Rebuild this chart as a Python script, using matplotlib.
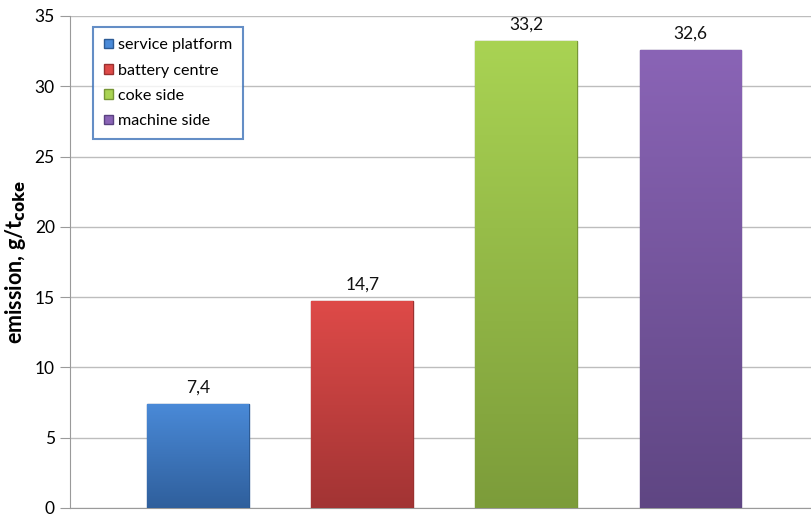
import matplotlib
matplotlib.use("Agg")
import matplotlib.pyplot as plt
import numpy as np
from matplotlib.colors import LinearSegmentedColormap
from matplotlib.patches import Patch

plt.rcParams['font.family'] = ['Lato', 'DejaVu Sans']

categories = ["service platform", "battery centre", "coke side", "machine side"]
values = [7.4, 14.7, 33.2, 32.6]
labels = ["7,4", "14,7", "33,2", "32,6"]
top_colors = ["#4a8ad8", "#de4a48", "#a9d353", "#8a64b6"]
bottom_colors = ["#2f5f9c", "#a23434", "#7c9c3a", "#5f4683"]
edge_colors = ["#2d5b95", "#9a3130", "#779636", "#5a4280"]
yticks = [0, 5, 10, 15, 20, 25, 30, 35]

fig = plt.figure(figsize=(8.12, 5.18), dpi=100)
ax = fig.add_axes([70/812, 10/518, 742/812, 492/518])

x = np.arange(len(categories))
bars = ax.bar(x, values, width=0.62, color=top_colors, edgecolor=edge_colors,
              linewidth=1.0, zorder=3)

for b, tc, bc in zip(bars, top_colors, bottom_colors):
    cmap = LinearSegmentedColormap.from_list("g", [bc, tc])
    grad = np.linspace(0, 1, 256).reshape(-1, 1)
    x0, y0 = b.get_x(), b.get_y()
    w, h = b.get_width(), b.get_height()
    im = ax.imshow(grad, cmap=cmap, aspect='auto', origin='lower',
                   extent=[x0, x0 + w, y0, y0 + h], zorder=3.5)
    im.set_clip_path(b)

for b, lab in zip(bars, labels):
    ax.text(b.get_x() + b.get_width() / 2, b.get_height() + 0.6, lab,
            ha='center', va='bottom', fontsize=12.5, color='#111111', zorder=5)

ax.set_xlim(-0.78, 3.74)
ax.set_ylim(0, 35)
ax.set_yticks(yticks)
ax.set_yticklabels([str(t) for t in yticks], fontsize=12.5)
ax.set_xticks([])
ax.grid(axis='y', color='#bdbdbd', linewidth=1.0, zorder=0)
ax.set_axisbelow(True)
for s in ['top', 'right']:
    ax.spines[s].set_visible(False)
ax.spines['left'].set_color('#9a9a9a')
ax.spines['bottom'].set_color('#9a9a9a')
ax.tick_params(axis='y', length=7, color='#9a9a9a', pad=4)

ax.set_ylabel(r"emission, g/t$_{\mathbf{coke}}$", fontsize=15.5, fontweight='bold', labelpad=5)

handles = [Patch(facecolor=tc, edgecolor=ec, label=c)
           for tc, ec, c in zip(top_colors, edge_colors, categories)]
leg = ax.legend(handles=handles, loc='upper left', bbox_to_anchor=(23/742, 481/492),
                fontsize=11.6, frameon=True, fancybox=False, handlelength=0.55,
                handleheight=0.55, handletextpad=0.3, labelspacing=0.7,
                borderpad=0.7, borderaxespad=0)
leg.get_frame().set_edgecolor('#3d72b8')
leg.get_frame().set_linewidth(1.5)
leg.set_zorder(6)

fig.savefig("out.png", dpi=100)
